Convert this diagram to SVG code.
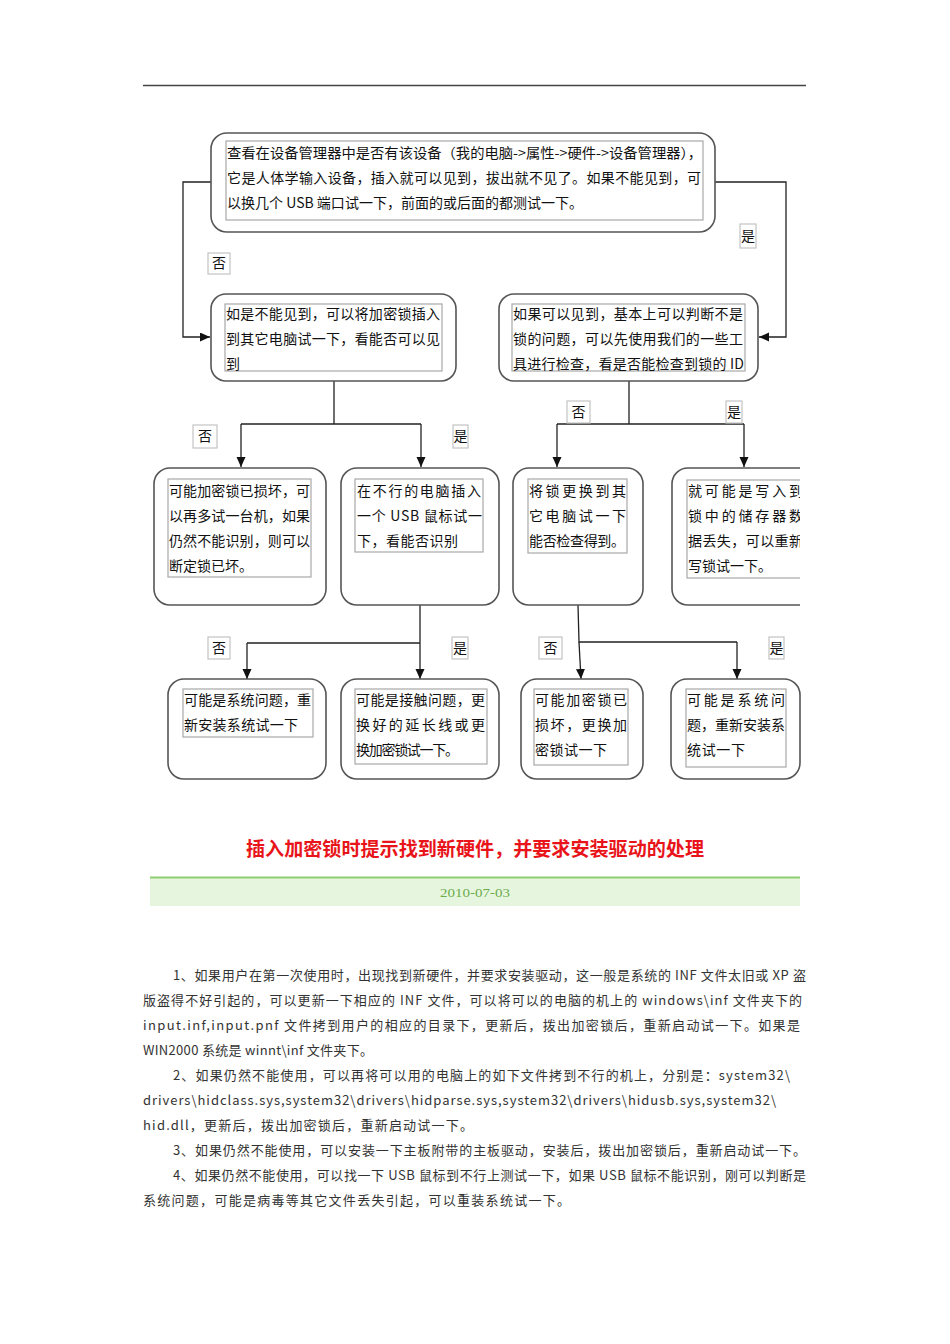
<svg xmlns="http://www.w3.org/2000/svg" width="950" height="1344" viewBox="0 0 950 1344">
<style>
.box{fill:#fff;stroke:#555;stroke-width:1.6}
.inner{fill:none;stroke:#a8a8a8;stroke-width:1.2}
.t{font-family:"Noto Sans CJK SC","Liberation Sans",sans-serif;font-size:14px;fill:#111}
.lb{fill:#fff;stroke:#c4c4c4;stroke-width:1.2}
.lt{font-family:"Noto Sans CJK SC","Liberation Sans",sans-serif;font-size:14px;fill:#111;text-anchor:middle}
.c{fill:none;stroke:#222;stroke-width:1.3}
.p{font-family:"Noto Sans CJK SC","Liberation Serif",serif;font-size:13px;fill:#333}
</style>
<defs>
<marker id="ah" markerUnits="userSpaceOnUse" markerWidth="10" markerHeight="10" refX="10" refY="4.5" orient="auto">
<path d="M0,0 L10,4.5 L0,9 z" fill="#111"/>
</marker>
<clipPath id="clipR"><rect x="0" y="0" width="800" height="1344"/></clipPath>
</defs>
<rect width="950" height="1344" fill="#fff"/>
<line x1="143" y1="85.5" x2="806" y2="85.5" stroke="#444" stroke-width="1.5"/>

<g id="connectors">
<path class="c" d="M211,182 H183 V337 H210" marker-end="url(#ah)"/>
<path class="c" d="M715,182 H786 V337 H759" marker-end="url(#ah)"/>
<path class="c" d="M334,381 V424 M241,424 H421"/>
<path class="c" d="M241,424 V467" marker-end="url(#ah)"/>
<path class="c" d="M421,424 V467" marker-end="url(#ah)"/>
<path class="c" d="M629,381 V424 M557,424 H744"/>
<path class="c" d="M557,424 V467" marker-end="url(#ah)"/>
<path class="c" d="M744,424 V467" marker-end="url(#ah)"/>
<path class="c" d="M420,605 V643 M247,643 H420"/>
<path class="c" d="M247,643 V679" marker-end="url(#ah)"/>
<path class="c" d="M420,643 V679" marker-end="url(#ah)"/>
<path class="c" d="M578,605 L579,642 H737"/>
<path class="c" d="M737,642 V679" marker-end="url(#ah)"/>
<path class="c" d="M579,642 L581,679" marker-end="url(#ah)"/>
</g>

<g id="labels">
<rect class="lb" x="208" y="253" width="22" height="21"/><text class="lt" x="219" y="268">否</text>
<rect class="lb" x="740" y="224" width="16" height="24"/><text class="lt" x="748" y="241">是</text>
<rect class="lb" x="193" y="425" width="24" height="23"/><text class="lt" x="205" y="441">否</text>
<rect class="lb" x="453" y="425" width="15" height="23"/><text class="lt" x="460.5" y="441">是</text>
<rect class="lb" x="567" y="401" width="23" height="22"/><text class="lt" x="578.5" y="417">否</text>
<rect class="lb" x="726" y="401" width="16" height="22"/><text class="lt" x="734" y="417">是</text>
<rect class="lb" x="208" y="637" width="22" height="22"/><text class="lt" x="219" y="653">否</text>
<rect class="lb" x="452" y="637" width="16" height="22"/><text class="lt" x="460" y="653">是</text>
<rect class="lb" x="539" y="637" width="23" height="22"/><text class="lt" x="550.5" y="653">否</text>
<rect class="lb" x="769" y="637" width="15" height="22"/><text class="lt" x="776.5" y="653">是</text>
</g>

<g id="n-top">
<rect class="box" x="211" y="133" width="504" height="99" rx="16"/>
<rect class="inner" x="226" y="141" width="477" height="79"/>
<text class="t" x="227" y="158" textLength="475" lengthAdjust="spacingAndGlyphs">查看在设备管理器中是否有该设备（我的电脑-&gt;属性-&gt;硬件-&gt;设备管理器），</text>
<text class="t" x="227" y="183" textLength="474" lengthAdjust="spacing">它是人体学输入设备，插入就可以见到，拔出就不见了。如果不能见到，可</text>
<text class="t" x="227" y="208" textLength="356" lengthAdjust="spacing">以换几个 USB 端口试一下，前面的或后面的都测试一下。</text>
</g>

<g id="n-midleft">
<rect class="box" x="211" y="294" width="245" height="87" rx="15"/>
<rect class="inner" x="225" y="304" width="217" height="67"/>
<text class="t" x="226" y="319" textLength="214" lengthAdjust="spacing">如是不能见到，可以将加密锁插入</text>
<text class="t" x="226" y="344" textLength="214" lengthAdjust="spacing">到其它电脑试一下，看能否可以见</text>
<text class="t" x="226" y="369">到</text>
</g>

<g id="n-midright">
<rect class="box" x="499" y="294" width="259" height="87" rx="15"/>
<rect class="inner" x="512" y="304" width="233" height="67"/>
<text class="t" x="513" y="319" textLength="230" lengthAdjust="spacing">如果可以见到，基本上可以判断不是</text>
<text class="t" x="513" y="344" textLength="230" lengthAdjust="spacing">锁的问题，可以先使用我们的一些工</text>
<text class="t" x="513" y="369" textLength="231" lengthAdjust="spacing">具进行检查，看是否能检查到锁的 ID</text>
</g>

<g id="n-r3a">
<rect class="box" x="154" y="468" width="172" height="137" rx="16"/>
<rect class="inner" x="168" y="479" width="143" height="98"/>
<text class="t" x="169" y="496" textLength="141" lengthAdjust="spacing">可能加密锁已损坏，可</text>
<text class="t" x="169" y="521" textLength="141" lengthAdjust="spacing">以再多试一台机，如果</text>
<text class="t" x="169" y="546" textLength="141" lengthAdjust="spacing">仍然不能识别，则可以</text>
<text class="t" x="169" y="571">断定锁已坏。</text>
</g>

<g id="n-r3b">
<rect class="box" x="341" y="468" width="158" height="137" rx="16"/>
<rect class="inner" x="355" y="479" width="128" height="73"/>
<text class="t" x="357" y="496" textLength="124" lengthAdjust="spacing">在不行的电脑插入</text>
<text class="t" x="357" y="521" textLength="125" lengthAdjust="spacing">一个 USB 鼠标试一</text>
<text class="t" x="357" y="546" textLength="101" lengthAdjust="spacing">下，看能否识别</text>
</g>

<g id="n-r3c">
<rect class="box" x="513" y="468" width="130" height="137" rx="16"/>
<rect class="inner" x="528" y="479" width="99" height="74"/>
<text class="t" x="529" y="496" textLength="97" lengthAdjust="spacing">将锁更换到其</text>
<text class="t" x="529" y="521" textLength="97" lengthAdjust="spacing">它电脑试一下</text>
<text class="t" x="529" y="546" textLength="96" lengthAdjust="spacing">能否检查得到。</text>
</g>

<g id="n-r3d" clip-path="url(#clipR)">
<rect class="box" x="672" y="468" width="150" height="137" rx="16"/>
<rect class="inner" x="687" y="480" width="130" height="98"/>
<text class="t" x="688" y="496" textLength="115" lengthAdjust="spacing">就可能是写入到</text>
<text class="t" x="688" y="521" textLength="115" lengthAdjust="spacing">锁中的储存器数</text>
<text class="t" x="688" y="546" textLength="115" lengthAdjust="spacing">据丢失，可以重新</text>
<text class="t" x="688" y="571">写锁试一下。</text>
</g>

<g id="n-r4a">
<rect class="box" x="168" y="679" width="158" height="100" rx="16"/>
<rect class="inner" x="183" y="689" width="130" height="48"/>
<text class="t" x="184" y="705" textLength="127" lengthAdjust="spacing">可能是系统问题，重</text>
<text class="t" x="184" y="730" textLength="114" lengthAdjust="spacing">新安装系统试一下</text>
</g>

<g id="n-r4b">
<rect class="box" x="341" y="679" width="158" height="100" rx="16"/>
<rect class="inner" x="355" y="689" width="132" height="75"/>
<text class="t" x="356" y="705" textLength="129" lengthAdjust="spacing">可能是接触问题，更</text>
<text class="t" x="356" y="730" textLength="129" lengthAdjust="spacing">换好的延长线或更</text>
<text class="t" x="356" y="755" textLength="103" lengthAdjust="spacing">换加密锁试一下。</text>
</g>

<g id="n-r4c">
<rect class="box" x="521" y="679" width="122" height="100" rx="16"/>
<rect class="inner" x="534" y="689" width="94" height="76"/>
<text class="t" x="535" y="705" textLength="92" lengthAdjust="spacing">可能加密锁已</text>
<text class="t" x="535" y="730" textLength="92" lengthAdjust="spacing">损坏，更换加</text>
<text class="t" x="535" y="755" textLength="72" lengthAdjust="spacing">密锁试一下</text>
</g>

<g id="n-r4d">
<rect class="box" x="671" y="679" width="129" height="100" rx="16"/>
<rect class="inner" x="686" y="689" width="100" height="78"/>
<text class="t" x="687" y="705" textLength="98" lengthAdjust="spacing">可能是系统问</text>
<text class="t" x="687" y="730" textLength="98" lengthAdjust="spacing">题，重新安装系</text>
<text class="t" x="687" y="755" textLength="58" lengthAdjust="spacing">统试一下</text>
</g>

<g id="title">
<text x="475" y="856" text-anchor="middle" font-family="Noto Sans CJK SC, sans-serif" font-size="19" font-weight="bold" fill="#e8141a" textLength="458" lengthAdjust="spacingAndGlyphs">插入加密锁时提示找到新硬件，并要求安装驱动的处理</text>
<rect x="150" y="878" width="650" height="28" fill="#e6f6de"/>
<line x1="150" y1="877.5" x2="800" y2="877.5" stroke="#8fcd70" stroke-width="2"/>
<text x="475" y="897" text-anchor="middle" font-family="Liberation Serif, serif" font-size="13" fill="#6aab4c" textLength="70" lengthAdjust="spacingAndGlyphs">2010-07-03</text>
</g>

<g id="body">
<text class="p" x="173" y="980" textLength="633" lengthAdjust="spacing">1、如果用户在第一次使用时，出现找到新硬件，并要求安装驱动，这一般是系统的 INF 文件太旧或 XP 盗</text>
<text class="p" x="143" y="1005" textLength="659" lengthAdjust="spacing">版盗得不好引起的，可以更新一下相应的 INF 文件，可以将可以的电脑的机上的 windows\inf 文件夹下的</text>
<text class="p" x="143" y="1030" textLength="657" lengthAdjust="spacing">input.inf,input.pnf 文件拷到用户的相应的目录下，更新后，拨出加密锁后，重新启动试一下。如果是</text>
<text class="p" x="143" y="1055" textLength="230" lengthAdjust="spacing">WIN2000 系统是 winnt\inf 文件夹下。</text>
<text class="p" x="173" y="1080" textLength="617" lengthAdjust="spacing">2、如果仍然不能使用，可以再将可以用的电脑上的如下文件拷到不行的机上，分别是：system32\</text>
<text class="p" x="143" y="1105" textLength="633" lengthAdjust="spacing">drivers\hidclass.sys,system32\drivers\hidparse.sys,system32\drivers\hidusb.sys,system32\</text>
<text class="p" x="143" y="1130" textLength="330" lengthAdjust="spacing">hid.dll，更新后，拨出加密锁后，重新启动试一下。</text>
<text class="p" x="173" y="1155" textLength="633" lengthAdjust="spacing">3、如果仍然不能使用，可以安装一下主板附带的主板驱动，安装后，拨出加密锁后，重新启动试一下。</text>
<text class="p" x="173" y="1180" textLength="633" lengthAdjust="spacing">4、如果仍然不能使用，可以找一下 USB 鼠标到不行上测试一下，如果 USB 鼠标不能识别，刚可以判断是</text>
<text class="p" x="143" y="1205" textLength="427" lengthAdjust="spacing">系统问题，可能是病毒等其它文件丢失引起，可以重装系统试一下。</text>
</g>
</svg>
